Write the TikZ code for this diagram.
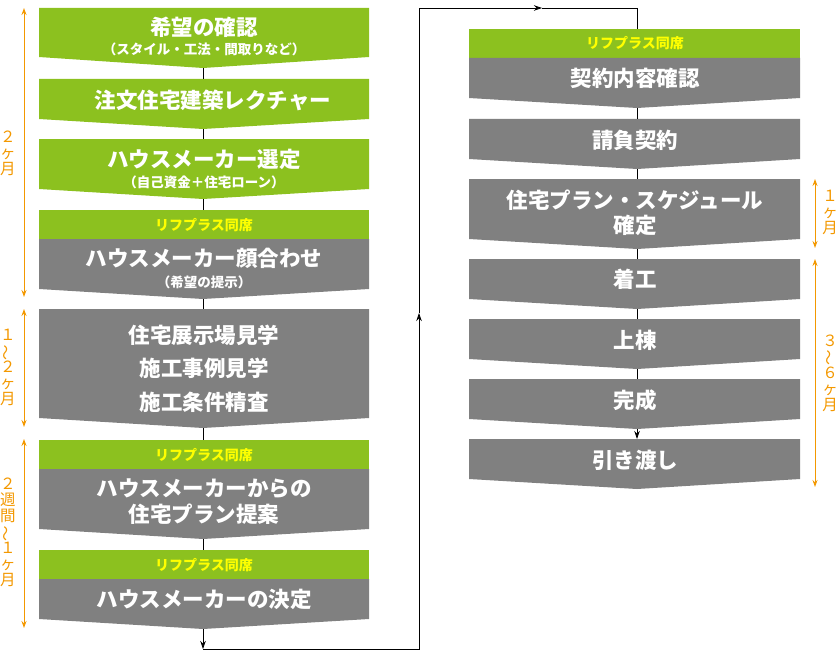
\documentclass[tikz,border=0pt]{standalone}
\usepackage{fontspec}
\setmainfont{Noto Sans CJK JP}
\usetikzlibrary{arrows.meta}
\definecolor{grn}{HTML}{8CC11F}
\definecolor{gry}{HTML}{808080}
\definecolor{orng}{HTML}{F39800}
\definecolor{ylw}{HTML}{FFFF00}
\newcommand\chev[7]{\fill[#1] (#2,#4) -- (#3,#4) -- (#3,#5) -- (#7,#6) -- (#2,#5) -- cycle;}
\newcommand\vt{\rotatebox[origin=c]{90}{～}}
\begin{document}
\begin{tikzpicture}[x=1pt,y=-1pt,
  ttl/.style={text=white,font=\bfseries\fontsize{21.5}{26}\selectfont,align=center,inner sep=0pt},
  subt/.style={text=white,font=\bfseries\fontsize{13.5}{15}\selectfont,inner sep=0pt},
  hdr/.style={text=ylw,font=\bfseries\fontsize{14}{15}\selectfont,inner sep=0pt},
  per/.style={text=orng,font=\fontsize{15.5}{16}\selectfont,align=center,inner sep=0pt},
  conn/.style={draw=black,line width=0.8pt},
  arr/.style={conn,-{Stealth[length=8pt,width=5.5pt]}},
  brk/.style={draw=orng,line width=1pt,{Stealth[length=7pt,width=5pt]}-{Stealth[length=7pt,width=5pt]}}]
\useasboundingbox (0,0) rectangle (840,650);

% ---------- left column ----------
\chev{grn}{39}{369}{8}{57}{68}{203}
\node[ttl]  (l1) at (204,27) {希望の確認};
\node[subt] (l1s) at (204,49) {（スタイル・工法・間取りなど）};

\chev{grn}{39}{369}{79}{119}{129}{203}
\node[ttl] (l2) at (213,100) {注文住宅建築レクチャー};

\chev{grn}{39}{369}{139}{189}{199}{203}
\node[ttl]  (l3) at (204,159) {ハウスメーカー選定};
\node[subt] (l3s) at (204,182) {（自己資金＋住宅ローン）};

\fill[grn] (39,210) rectangle (369,239);
\chev{gry}{39}{369}{239}{289}{299}{203}
\node[hdr]  (l4h) at (204,225) {リフプラス同席};
\node[ttl]  (l4) at (204,258) {ハウスメーカー顔合わせ};
\node[subt] (l4s) at (204,282) {（希望の提示）};

\chev{gry}{39}{369}{309}{418}{428}{203}
\node[ttl,font=\bfseries\fontsize{21.5}{33.5}\selectfont] (l5) at (204,368.5) {住宅展示場見学\\施工事例見学\\施工条件精査};

\fill[grn] (39,440) rectangle (369,469);
\chev{gry}{39}{369}{469}{529}{539}{203}
\node[hdr] (l6h) at (204,455) {リフプラス同席};
\node[ttl] (l6) at (204,502) {ハウスメーカーからの\\住宅プラン提案};

\fill[grn] (39,550) rectangle (369,579);
\chev{gry}{39}{369}{579}{619}{629}{203}
\node[hdr] (l7h) at (204,565) {リフプラス同席};
\node[ttl] (l7) at (204,599) {ハウスメーカーの決定};

\coordinate (l1b) at (203,68);  \coordinate (l2t) at (203,79);
\coordinate (l2b) at (203,129); \coordinate (l3t) at (203,139);
\coordinate (l3b) at (203,199); \coordinate (l4t) at (203,210);
\coordinate (l4b) at (203,299); \coordinate (l5t) at (203,309);
\coordinate (l5b) at (203,428); \coordinate (l6t) at (203,440);
\coordinate (l6b) at (203,539); \coordinate (l7t) at (203,550);
\coordinate (l7b) at (203,629);
\draw[conn] (l1b) -- (l2t);
\draw[conn] (l2b) -- (l3t);
\draw[conn] (l3b) -- (l4t);
\draw[conn] (l4b) -- (l5t);
\draw[conn] (l5b) -- (l6t);
\draw[conn] (l6b) -- (l7t);

% ---------- return path ----------
\coordinate (c1) at (203,649);
\coordinate (c2) at (419,649);
\coordinate (c3) at (419,313);
\coordinate (c4) at (419,8);
\coordinate (c5) at (542,8);
\coordinate (c6) at (637,8);
\coordinate (r1t) at (637,29);
\draw[arr] (l7b) -- (c1);
\draw[arr] (c1) -- (c2) -- (c3);
\draw[arr] (c3) -- (c4) -- (c5);
\draw[conn] (c5) -- (c6) -- (r1t);

% ---------- right column ----------
\fill[grn] (469,29) rectangle (800,58);
\chev{gry}{469}{800}{58}{98}{108}{637}
\node[hdr] (r1h) at (635,43) {リフプラス同席};
\node[ttl] (r1) at (635,78) {契約内容確認};

\chev{gry}{469}{800}{119}{159}{169}{637}
\node[ttl] (r2) at (635,140) {請負契約};

\chev{gry}{469}{800}{179}{239}{249}{637}
\node[ttl,font=\bfseries\fontsize{21.5}{25}\selectfont] (r3) at (635,212.5) {住宅プラン・スケジュール\\確定};

\chev{gry}{469}{800}{259}{299}{309}{637}
\node[ttl] (r4) at (635,279) {着工};

\chev{gry}{469}{800}{319}{359}{369}{637}
\node[ttl] (r5) at (635,340) {上棟};

\chev{gry}{469}{800}{379}{419}{429}{637}
\node[ttl] (r6) at (635,400) {完成};

\chev{gry}{469}{800}{439}{479}{489}{637}
\node[ttl] (r7) at (635,460) {引き渡し};

\coordinate (r1b) at (637,108); \coordinate (r2t) at (637,119);
\coordinate (r2b) at (637,169); \coordinate (r3t) at (637,179);
\coordinate (r3b) at (637,249); \coordinate (r4t) at (637,259);
\coordinate (r4b) at (637,309); \coordinate (r5t) at (637,319);
\coordinate (r5b) at (637,369); \coordinate (r6t) at (637,379);
\coordinate (r6b) at (637,429); \coordinate (r7t) at (637,439);
\draw[conn] (r1b) -- (r2t);
\draw[conn] (r2b) -- (r3t);
\draw[conn] (r3b) -- (r4t);
\draw[conn] (r4b) -- (r5t);
\draw[conn] (r5b) -- (r6t);
\draw[arr]  (r6b) -- (r7t);

% ---------- period brackets ----------
\coordinate (b1a) at (24,8);   \coordinate (b1b) at (24,297);
\coordinate (b2a) at (24,309); \coordinate (b2b) at (24,427);
\coordinate (b3a) at (24,439); \coordinate (b3b) at (24,628);
\coordinate (b4a) at (815,179); \coordinate (b4b) at (815,248);
\coordinate (b5a) at (815,259); \coordinate (b5b) at (815,487);
\draw[brk] (b1a) -- (b1b);
\draw[brk] (b2a) -- (b2b);
\draw[brk] (b3a) -- (b3b);
\draw[brk] (b4a) -- (b4b);
\draw[brk] (b5a) -- (b5b);
\node[per] (p1) at (8,153.5) {２\\ヶ\\月};
\node[per] (p2) at (8,367.5) {１\\\vt\\２\\ヶ\\月};
\node[per] (p3) at (8,532.5) {２\\週\\間\\\vt\\１\\ヶ\\月};
\node[per] (p4) at (830,212.5) {１\\ヶ\\月};
\node[per] (p5) at (830,373) {３\\\vt\\６\\ヶ\\月};
\end{tikzpicture}
\end{document}
